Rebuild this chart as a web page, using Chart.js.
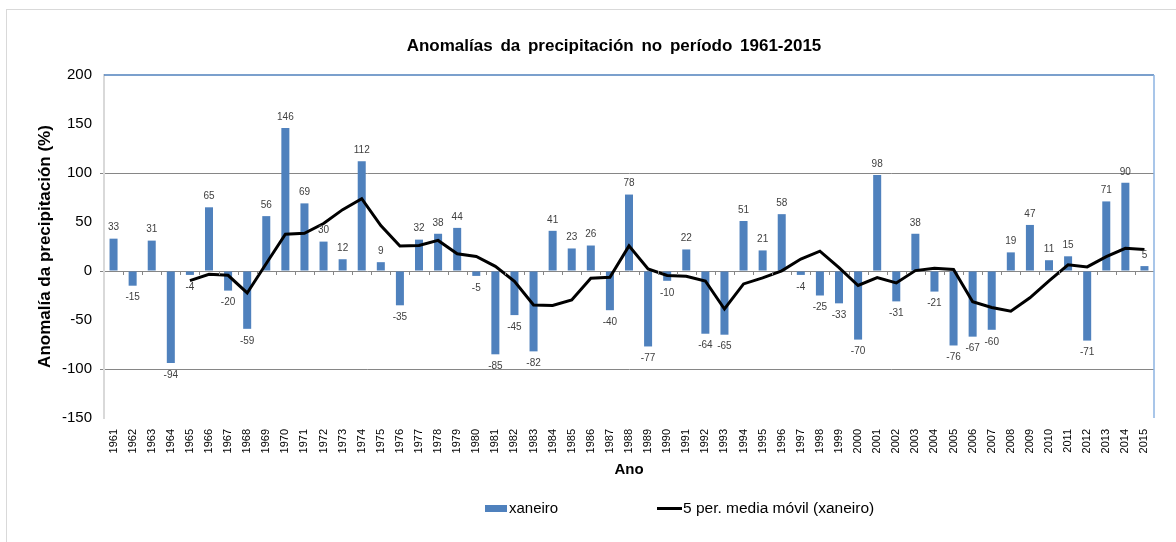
<!DOCTYPE html>
<html>
<head>
<meta charset="utf-8">
<script src="https://cdn.jsdelivr.net/npm/chart.js@4"></script>
<style>
  html, body { margin: 0; padding: 0; background: #fff; }
  #wrap { position: relative; width: 1176px; height: 542px; overflow: hidden; font-family: "Liberation Sans", Arial, sans-serif; }
  #frame { position: absolute; left: 6px; top: 9px; width: 1200px; height: 600px; border-left: 1px solid #d9d9d9; border-top: 1px solid #d9d9d9; }
  #c { position: absolute; left: 0; top: 0; }
  #title { position: absolute; left: 314px; width: 600px; top: 36px; text-align: center; font-weight: bold; font-size: 17px; word-spacing: 3px; color: #000; }
  .lg { position: absolute; font-size: 15px; color: #000; line-height: 18px; }
  .sw { position: absolute; }
</style>
</head>
<body>
<div id="wrap">
  <div id="frame"></div>
  <canvas id="c" width="1176" height="542"></canvas>
  <div id="title">Anomalías da precipitación no período 1961-2015</div>
  <div class="sw" style="left:485px;top:505px;width:22px;height:7px;background:#4F81BD;"></div>
  <div class="lg" style="left:509px;top:499px;">xaneiro</div>
  <div class="sw" style="left:657px;top:507px;width:25px;height:3px;background:#000;"></div>
  <div class="lg" style="left:683px;top:499px;font-size:15.5px;">5 per. media móvil (xaneiro)</div>
</div>
<script>
const years = ["1961","1962","1963","1964","1965","1966","1967","1968","1969","1970",
  "1971","1972","1973","1974","1975","1976","1977","1978","1979","1980",
  "1981","1982","1983","1984","1985","1986","1987","1988","1989","1990",
  "1991","1992","1993","1994","1995","1996","1997","1998","1999","2000",
  "2001","2002","2003","2004","2005","2006","2007","2008","2009","2010",
  "2011","2012","2013","2014","2015"];
const xaneiro = [33,-15,31,-94,-4,65,-20,-59,56,146,
  69,30,12,112,9,-35,32,38,44,-5,
  -85,-45,-82,41,23,26,-40,78,-77,-10,
  22,-64,-65,51,21,58,-4,-25,-33,-70,
  98,-31,38,-21,-76,-67,-60,19,47,11,
  15,-71,71,90,5];
const mediaMovil = [null,null,null,null,-9.8,-3.4,-4.4,-22.4,7.6,37.6,
  38.4,48.4,62.6,73.8,46.4,25.6,26,31.2,17.6,14.8,
  4.8,-10.6,-34.6,-35.2,-29.6,-7.4,-6.4,25.6,2,-4.6,
  -5.4,-10.2,-38.8,-13.2,-7,0.2,12.2,20.2,3.4,-14.8,
  -6.8,-12.2,0.4,2.8,1.6,-31.4,-37.2,-41,-27.4,-10,
  6.4,4.2,14.6,23.2,22];
const yTicks = [200,150,100,50,0,-50,-100,-150];

const FONT = "'Liberation Sans', Arial, sans-serif";

const decor = {
  id: 'decor',
  afterDatasetsDraw(chart) {
    const ctx = chart.ctx;
    const area = chart.chartArea;
    const y = chart.scales.y;
    const y0 = y.getPixelForValue(0);
    ctx.save();
    ctx.strokeStyle = '#868686';
    ctx.lineWidth = 1;
    const n = years.length;
    const w = (area.right - area.left) / n;
    ctx.beginPath();
    for (let i = 1; i < n; i++) {
      const px = Math.round(area.left + i * w) + 0.5;
      ctx.moveTo(px, y0);
      ctx.lineTo(px, y0 + 4);
    }
    ctx.stroke();
    const meta = chart.getDatasetMeta(1);
    ctx.font = '10px ' + FONT;
    ctx.fillStyle = '#404040';
    ctx.textAlign = 'center';
    ctx.textBaseline = 'middle';
    meta.data.forEach((bar, i) => {
      const v = xaneiro[i];
      const ly = v >= 0 ? bar.y - 11 : bar.y + 12;
      ctx.fillText(String(v), bar.x, ly);
    });
    ctx.lineWidth = 1.5;
    ctx.strokeStyle = '#4F81BD';
    ctx.beginPath();
    ctx.moveTo(area.left, area.top);
    ctx.lineTo(area.right, area.top);
    ctx.stroke();
    ctx.strokeStyle = '#8DB3E2';
    ctx.beginPath();
    ctx.moveTo(area.right, area.top);
    ctx.lineTo(area.right, area.bottom);
    ctx.stroke();
    ctx.restore();
  }
};

new Chart(document.getElementById('c'), {
  data: {
    labels: years,
    datasets: [
      {
        type: 'line',
        label: '5 per. media móvil (xaneiro)',
        data: mediaMovil,
        borderColor: '#000000',
        borderWidth: 3,
        pointRadius: 0,
        tension: 0,
        fill: false,
        order: 0
      },
      {
        type: 'bar',
        label: 'xaneiro',
        data: xaneiro,
        backgroundColor: '#4F81BD',
        barPercentage: 0.42,
        categoryPercentage: 1.0,
        order: 1
      }
    ]
  },
  options: {
    responsive: false,
    animation: false,
    events: [],
    layout: { padding: { left: 0, right: 22, top: 75, bottom: 57 } },
    plugins: { legend: { display: false }, title: { display: false }, tooltip: { enabled: false } },
    scales: {
      x: {
        grid: { display: false, drawTicks: false },
        border: { display: false },
        ticks: {
          autoSkip: false, minRotation: 90, maxRotation: 90, padding: 11,
          color: '#000', font: { family: FONT, size: 11 }
        },
        title: {
          display: true, text: 'Ano', color: '#000',
          font: { family: FONT, size: 15, weight: 'bold' },
          padding: { top: 0, bottom: 6 }
        },
        afterFit(s) { s.height = 67; }
      },
      y: {
        min: -150, max: 200,
        afterBuildTicks(s) { s.ticks = yTicks.map(v => ({ value: v })); },
        grid: {
          color: ctx => (ctx.tick && (ctx.tick.value === 100 || ctx.tick.value === -100 || ctx.tick.value === 0)) ? '#868686' : 'rgba(0,0,0,0)',
          tickLength: 4,
          lineWidth: 1
        },
        border: { display: true, color: '#d9d9d9', width: 2 },
        ticks: {
          padding: 8, color: '#000',
          font: { family: FONT, size: 15 },
          callback: v => String(v)
        },
        title: {
          display: true, text: 'Anomalía da precipitación (%)', color: '#000',
          font: { family: FONT, size: 17, weight: 'bold' },
          padding: { top: 35, bottom: 0 }
        },
        afterFit(s) { s.width = 104; }
      }
    }
  },
  plugins: [decor]
});
</script>
</body>
</html>
